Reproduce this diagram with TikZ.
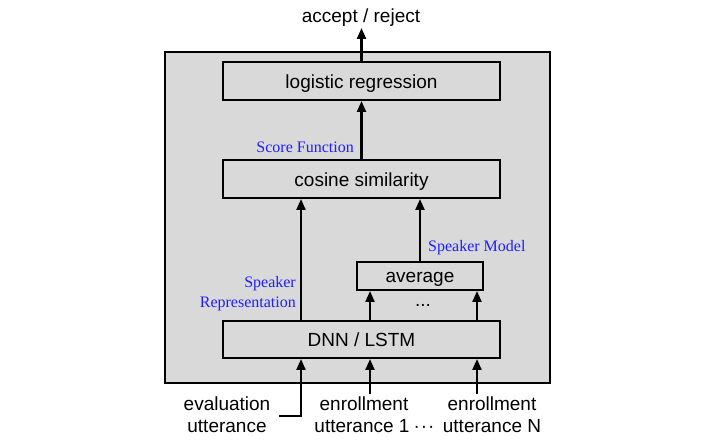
\documentclass[tikz,border=0pt]{standalone}
\usepackage{fontspec}
\setmainfont{Liberation Sans}
\newfontfamily\serifblue{Liberation Serif}
\usetikzlibrary{arrows.meta}
\definecolor{boxgray}{RGB}{217,217,217}
\definecolor{lblblue}{RGB}{30,30,255}
\tikzset{
  blk/.style={draw=black, line width=2pt, fill=boxgray, inner sep=0pt, font=\fontsize{19}{22}\selectfont},
  arr/.style={line width=2.2pt, -{Triangle[length=11pt,width=9pt]}},
  lbl/.style={font=\fontsize{19}{22}\selectfont, inner sep=0pt, anchor=base},
  bluelbl/.style={font=\serifblue\fontsize{16}{20}\selectfont, text=lblblue, inner sep=0pt},
}
\begin{document}
\begin{tikzpicture}[x=1pt,y=-1pt]
\useasboundingbox (0,0) rectangle (716,446);
\draw[line width=2.4pt, fill=boxgray] (165,52) rectangle (550,383);
\node[blk, minimum width=277pt, text height=27pt, text depth=11pt] (lr) at (361.5,81) {logistic regression};
\node[blk, minimum width=277pt, text height=27pt, text depth=11pt] (cs) at (361.5,179) {cosine similarity};
\node[blk, minimum width=126pt, text height=21pt, text depth=7pt] (avg) at (420,276) {average};
\node[blk, minimum width=277pt, text height=26pt, text depth=11pt] (dnn) at (361.5,339.5) {DNN / LSTM};
\node[lbl] (acc) at (361,23) {accept / reject};
\node[lbl] (dd) at (423,307) {...};
\node[bluelbl, anchor=base east] (sf) at (354,153) {Score Function};
\node[bluelbl, anchor=base west] (sm) at (428,252) {Speaker Model};
\node[bluelbl, anchor=base east] (sr1) at (296,288) {Speaker};
\node[bluelbl, anchor=base east] (sr2) at (296,308) {Representation};
\node[lbl] (ev1) at (227,411) {evaluation};
\node[lbl] (ev2) at (227,433) {utterance};
\node[lbl] (en1a) at (364,411) {enrollment};
\node[lbl] (en1b) at (362,433) {utterance 1};
\node[lbl] (enNa) at (492,411) {enrollment};
\node[lbl] (enNb) at (492,433) {utterance N};
\node[lbl] (dots) at (424,433) {·\kern1pt·\kern1pt·};
\coordinate (evs) at (279,416);
\coordinate (e1s) at (370,394);
\coordinate (eNs) at (477,394);
\draw[arr] (lr.north) -- (361.5,28);
\draw[arr] (cs.north) -- (lr.south);
\draw[arr] (dnn.north -| 301,0) -- (cs.south -| 301,0);
\draw[arr] (avg.north) -- (cs.south -| avg.north);
\draw[arr] (dnn.north -| 370,0) -- (avg.south -| 370,0);
\draw[arr] (dnn.north -| 477,0) -- (avg.south -| 477,0);
\draw[arr] (evs) -- (301,416) -- (dnn.south -| 301,0);
\draw[arr] (e1s) -- (dnn.south -| e1s);
\draw[arr] (eNs) -- (dnn.south -| eNs);
\end{tikzpicture}
\end{document}
